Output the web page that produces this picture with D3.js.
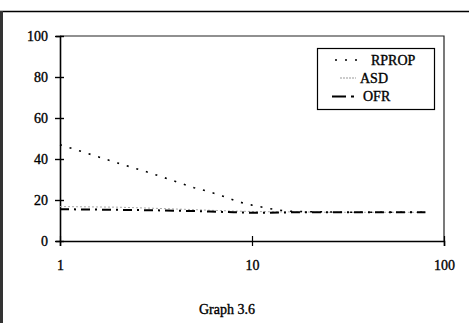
<!DOCTYPE html>
<html>
<head>
<style>
    body { margin: 0; background: #fff; }
    text { font-family: "Liberation Serif", "Times New Roman", serif; fill: #000; stroke: #000; stroke-width: 0.35px; }
</style>
</head>
<body>
<div id="vis"></div>
<script src="https://d3js.org/d3.v7.min.js"></script>
<script>
    // values
    const epochs = [1, 2, 3, 4, 5, 6, 7, 8, 9, 10, 12, 14, 16, 20, 25, 30, 40, 50, 60, 70, 80];
    const rprop = [47, 38, 33, 29, 26, 24, 22, 20, 18.5, 17.5, 16, 15, 14.5, 14.3, 14.2, 14, 14, 14, 14, 14, 14];
    const asd = [16.8, 16.5, 16, 15.6, 15.3, 15, 14.8, 14.6, 14.5, 14.4, 14.3, 14.2, 14.2, 14.1, 14, 14, 14, 14, 14, 14, 14];
    const ofr = [15.5, 15.2, 15, 14.8, 14.6, 14.4, 14.2, 14, 13.9, 13.8, 13.8, 13.9, 14, 14, 14, 14, 14, 14, 14, 14, 14];
    const yTicks = [0, 20, 40, 60, 80, 100];
    const xTicks = [1, 10, 100];
    const seriesNames = ["RPROP", "ASD", "OFR"];

    let width = 469, height = 323;

    let svg = d3.select("#vis")
        .append("svg")
        .attr("width", width)
        .attr("height", height);

    // outer frame of the scanned page
    svg.append("line")
        .attr("x1", 0).attr("x2", width)
        .attr("y1", 11.5).attr("y2", 11.5)
        .attr("stroke", "#000").attr("stroke-width", 1.5);
    svg.append("line")
        .attr("x1", 1.5).attr("x2", 1.5)
        .attr("y1", 11).attr("y2", height)
        .attr("stroke", "#333").attr("stroke-width", 3);

    let x = d3.scaleLog()
        .domain([1, 100])
        .range([60, 444]);

    let y = d3.scaleLinear()
        .domain([0, 100])
        .range([241, 36]);

    // plot frame (top and right)
    svg.append("path")
        .attr("d", "M" + x(1) + "," + y(100) + "H" + x(100) + "V" + y(0))
        .attr("fill", "none")
        .attr("stroke", "#222")
        .attr("stroke-width", 1.2);

    // Y axis
    let yAxis = d3.axisLeft(y).tickValues(yTicks).tickSize(4).tickPadding(8);
    let gy = svg.append("g")
        .attr("transform", "translate(" + x(1) + ",0)")
        .call(yAxis);
    gy.select(".domain").attr("stroke-width", 1.6);
    gy.selectAll(".tick line").attr("x2", -5).attr("x1", 4).attr("stroke-width", 1.4);
    gy.selectAll(".tick text")
        .style("font-size", "14px")
        .style("font-family", "Liberation Serif")
        .attr("x", -12);

    // X axis
    let xAxis = d3.axisBottom(x).tickValues(xTicks).tickFormat(d3.format("d")).tickSize(5).tickPadding(14);
    let gx = svg.append("g")
        .attr("transform", "translate(0," + y(0) + ")")
        .call(xAxis);
    gx.select(".domain").attr("stroke-width", 1.6);
    gx.selectAll(".tick line").attr("y1", -5).attr("stroke-width", 1.2);
    gx.selectAll(".tick text")
        .style("font-size", "14px")
        .style("font-family", "Liberation Serif");

    let line = d3.line()
        .x(function (d, i) { return x(epochs[i]); })
        .y(function (d) { return y(d); });

    // ASD: light grey dotted
    svg.append("path")
        .datum(asd)
        .attr("d", line)
        .attr("fill", "none")
        .attr("stroke", "#aaa")
        .attr("stroke-width", 1)
        .attr("stroke-dasharray", "2,2");

    // RPROP: black dotted
    svg.append("path")
        .datum(rprop)
        .attr("d", line)
        .attr("fill", "none")
        .attr("stroke", "#000")
        .attr("stroke-width", 1.6)
        .attr("stroke-dasharray", "2,8");

    // OFR: heavy dash-dot
    svg.append("path")
        .datum(ofr)
        .attr("d", line)
        .attr("fill", "none")
        .attr("stroke", "#000")
        .attr("stroke-width", 2)
        .attr("stroke-dasharray", "9,5,2,5");

    // legend
    let legend = svg.append("g");
    legend.append("rect")
        .attr("x", 317.5).attr("y", 48.5)
        .attr("width", 117).attr("height", 61)
        .attr("fill", "#fff")
        .attr("stroke", "#000")
        .attr("stroke-width", 1.2);

    legend.append("line")
        .attr("x1", 335).attr("x2", 364).attr("y1", 60).attr("y2", 60)
        .attr("stroke", "#000").attr("stroke-width", 1.6)
        .attr("stroke-dasharray", "2,8");
    legend.append("line")
        .attr("x1", 340).attr("x2", 356).attr("y1", 78).attr("y2", 78)
        .attr("stroke", "#999").attr("stroke-width", 1)
        .attr("stroke-dasharray", "2,1");
    legend.append("line")
        .attr("x1", 332).attr("x2", 356).attr("y1", 96.5).attr("y2", 96.5)
        .attr("stroke", "#000").attr("stroke-width", 2)
        .attr("stroke-dasharray", "14,5,3,20");

    let legendX = [371, 360, 363];
    let legendY = [65, 83, 101];
    legend.selectAll(".lbl")
        .data(seriesNames)
        .enter()
        .append("text")
        .attr("x", function (d, i) { return legendX[i]; })
        .attr("y", function (d, i) { return legendY[i]; })
        .style("font-size", "14px")
        .text(function (d) { return d; });

    // caption
    svg.append("text")
        .attr("x", 227)
        .attr("y", 314)
        .style("text-anchor", "middle")
        .style("font-size", "14px")
        .text("Graph 3.6");
</script>
</body>
</html>
